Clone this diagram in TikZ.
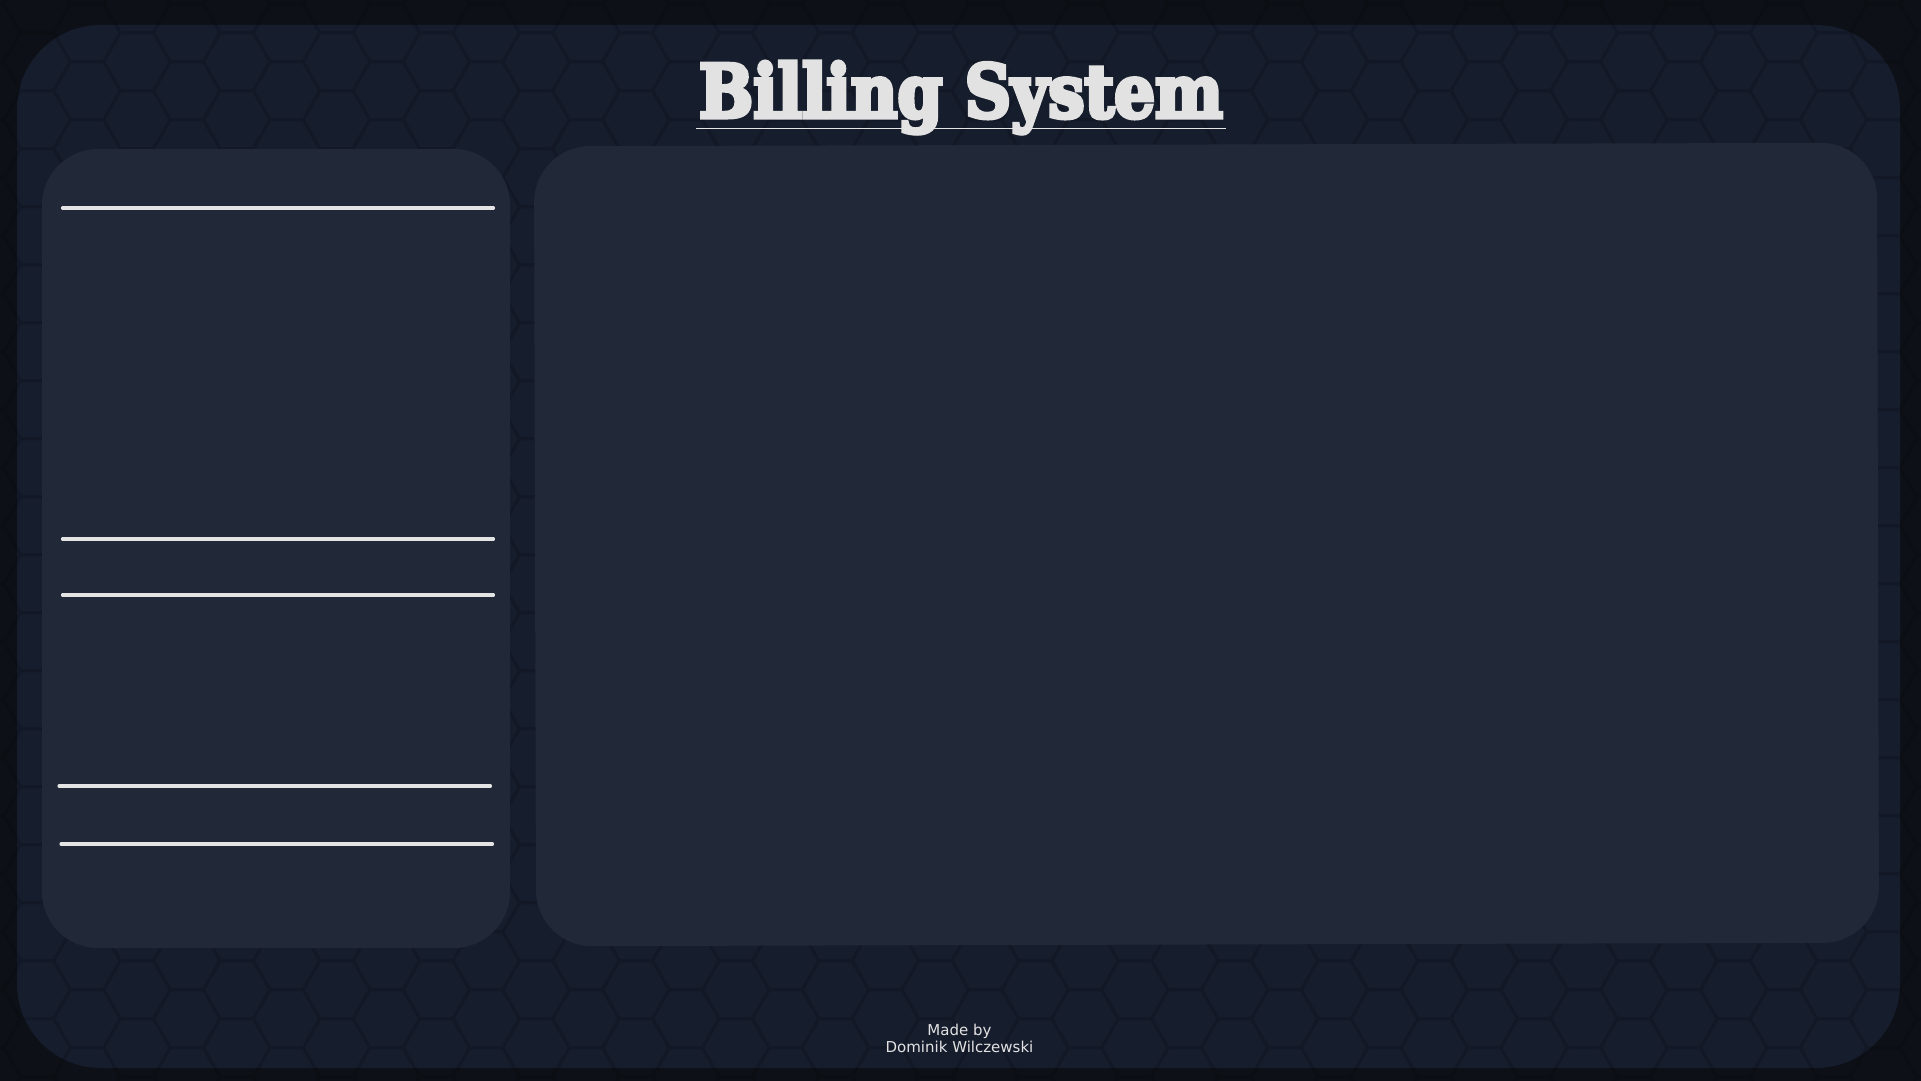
\documentclass[tikz,border=0pt]{standalone}
\usepackage{fontspec}
\setmainfont{DejaVu Sans}
\font\titlefnt="DejaVu Serif/B:embolden=6" at 40pt
\usepackage{graphicx}
\definecolor{pagebg}{HTML}{0D1117}
\definecolor{outerbg}{HTML}{161D2D}
\definecolor{innerbg}{HTML}{212837}
\definecolor{inktext}{HTML}{E2E2E2}
\definecolor{ruleink}{HTML}{E4E4E4}
\tikzset{
  hexline/.style={draw=black, draw opacity=0.14, line width=2.4pt, line join=round},
  outerpanel/.style={fill=outerbg, rounded corners=63pt},
  innerpanel/.style={fill=innerbg, rounded corners=42pt},
  divider/.style={draw=ruleink, line width=2.3pt, line cap=round},
  titleline/.style={draw=ruleink, line width=1.1pt},
  footertext/.style={text=inktext, inner sep=0pt, anchor=base, font=\fontsize{11.25pt}{13.5pt}\selectfont},
}
\begin{document}
\begin{tikzpicture}[x=0.75pt,y=-0.75pt]
\useasboundingbox (0,0) rectangle (1921,1081);
\fill[pagebg] (0,0) rectangle (1921,1081);
\fill[outerpanel] (17,25) rectangle (1900,1068);
\begin{scope}
\clip (0,0) rectangle (1921,1081);
\draw[hexline] foreach \i in {0,...,42} { foreach \j in {-3,...,18} {
  ({-112.6+49.9*\i-33.27},{90.7+58*\j+29*mod(\i,2)}) -- ++(16.635,-29) -- ++(33.27,0) -- ++(16.635,29)
} };
\end{scope}
% panels
\fill[innerpanel] (42,149) rectangle (510,948);
\begin{scope}[rotate around={0.15:(1206.5,544.5)}]
\fill[innerpanel] (535,144.5) rectangle (1878,944.5);
\end{scope}
% dividers in left panel
\draw[divider] (62.5,208) -- (493.5,208);
\draw[divider] (62.5,539) -- (493.5,539);
\draw[divider] (62.5,595) -- (493.5,595);
\draw[divider] (59,786) -- (490.5,786);
\draw[divider] (61,844) -- (492.5,844);
% title
\node[inner sep=0pt, anchor=base, text=inktext] (title) at (961,117.3)
  {\resizebox{393pt}{41.7pt}{\titlefnt Billing System}};
\coordinate (ulstart) at (696,128.3);
\coordinate (ulend) at (1226,128.3);
\draw[titleline] (ulstart) -- (ulend);
% footer
\node[footertext] (madeby) at (959.5,1035) {Made by};
\node[footertext] (author) at (959.5,1052.7) {Dominik Wilczewski};
\end{tikzpicture}
\end{document}
